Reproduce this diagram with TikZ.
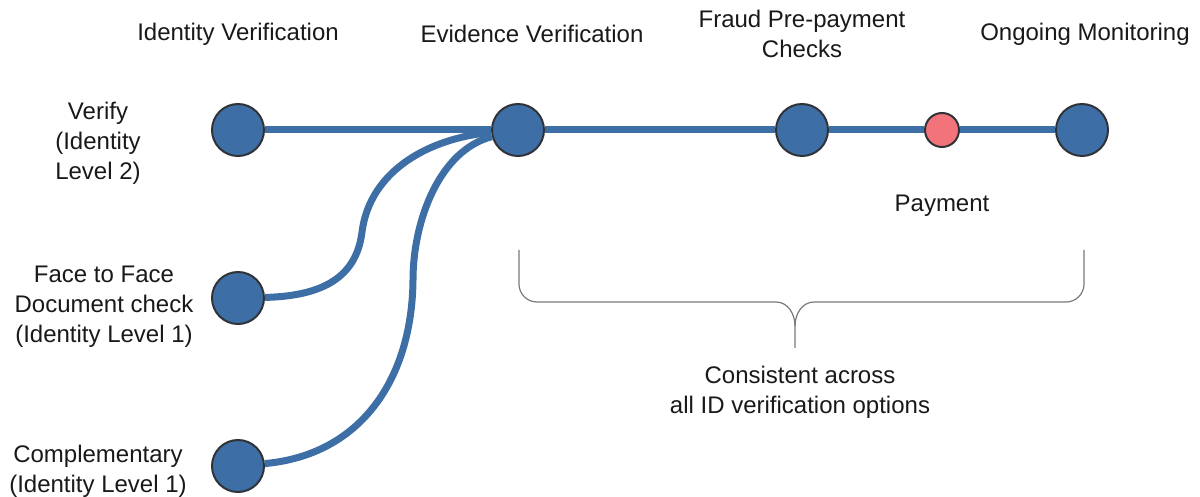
\documentclass[tikz,border=0pt]{standalone}
\usepackage{fontspec}
\setmainfont{Liberation Sans}
\usepackage{tikz}

\definecolor{nodeblue}{HTML}{3D6FA6}
\definecolor{payred}{HTML}{F2737A}
\definecolor{ringgrey}{HTML}{2F3338}
\definecolor{bracegrey}{HTML}{7A7A7A}

\begin{document}
\begin{tikzpicture}[x=0.5pt,y=-0.5pt,auto,node distance=140pt,
		main node/.style={circle,draw=ringgrey,line width=1pt,fill=nodeblue,minimum size=26pt,inner sep=0pt},
		pay node/.style={main node,fill=payred,minimum size=17pt},
		label node/.style={align=center,text=black!90,font=\fontsize{12}{15}\selectfont},
		link/.style={draw=nodeblue,line width=3.5pt},
		brace line/.style={draw=bracegrey,line width=0.6pt}]
		
		\useasboundingbox (0,0) rectangle (1200,497);
		
		\node[main node] (verify) at (238,130) {};
		\node[main node] (evid) [right of=verify] {};
		\node[main node] (fraud) [right of=evid, node distance=142pt] {};
		\node[pay node] (pay) [right of=fraud, node distance=70pt] {};
		\node[main node] (ongoing) [right of=pay, node distance=70pt] {};
		\node[main node] (face) [below of=verify, node distance=84pt] {};
		\node[main node] (comp) [below of=face, node distance=84pt] {};
		
		\node[label node] (idhead) [above of=verify, node distance=48pt] {Identity Verification};
		\node[label node] (evhead) [above of=evid, node distance=48pt, xshift=7pt] {Evidence Verification};
		\node[label node] (frhead) [above of=fraud, node distance=48pt] {Fraud Pre-payment\\Checks};
		\node[label node] (onhead) [above of=ongoing, node distance=48pt, xshift=1.5pt] {Ongoing Monitoring};
		\node[label node] (paytxt) [below of=pay, node distance=38pt] {Payment};
		
		\node[label node] (verifytxt) [left of=verify, node distance=70pt, yshift=-6.5pt] {Verify\\(Identity\\Level 2)};
		\node[label node] (facetxt) [left of=face, node distance=67pt, yshift=-4.5pt] {Face to Face\\Document check\\(Identity Level 1)};
		\node[label node] (comptxt) [left of=comp, node distance=70pt, yshift=-2.5pt] {Complementary\\(Identity Level 1)};
		
		\path[link]
		(verify) edge (evid)
		(evid) edge (fraud)
		(fraud) edge (pay)
		(pay) edge (ongoing);
		
		% routes that join at evidence verification
		\draw[link] (face) .. controls (330,296) and (357,272) .. (362,232)
			.. controls (370,170) and (430,138) .. (evid);
		\draw[link] (comp) .. controls (360,455) and (412,380) .. (413,280)
			.. controls (413,220) and (440,150) .. (evid);
		
		% brace
		\coordinate (tip) at (795,348);
		\draw[brace line] (519,250) -- (519,284) to[out=-90,in=180] (537,302) -- (776,302)
			to[out=0,in=90] (795,326) -- (tip);
		\draw[brace line] (795,326) to[out=90,in=180] (814,302) -- (1066,302)
			to[out=0,in=-90] (1084,284) -- (1084,250);
		\node[label node] (consist) [below of=tip, node distance=22pt, xshift=2.5pt] {Consistent across\\all ID verification options};
		
\end{tikzpicture}
\end{document}
